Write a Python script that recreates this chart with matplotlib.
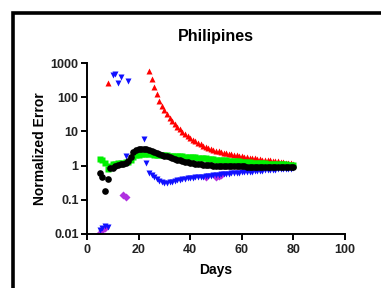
import matplotlib
matplotlib.use("Agg")
import matplotlib.pyplot as plt
from matplotlib.lines import Line2D

plt.rcParams['font.family'] = ['Liberation Sans', 'DejaVu Sans']

# ---- data ----
red_days = [8] + list(range(24, 81))
red_vals = [260, 590, 330, 200, 120, 80, 57, 42, 32, 25, 20, 16, 13.5, 11.5, 9.8, 8.4,
            7.3, 6.4, 5.7, 5.1, 4.6, 4.2, 3.8, 3.5, 3.3, 3.1, 2.9, 2.75, 2.6, 2.5, 2.4,
            2.3, 2.2, 2.12, 2.05, 1.98, 1.92, 1.86, 1.8, 1.75, 1.7, 1.66, 1.62, 1.58,
            1.54, 1.5, 1.47, 1.44, 1.41, 1.38, 1.35, 1.32, 1.29, 1.26, 1.23, 1.2, 1.17, 1.15]

blue_days = [5, 6, 7, 8, 10, 11, 12, 13, 15, 16, 22, 23] + list(range(24, 81))
blue_vals = [0.013, 0.015, 0.017, 0.016, 450, 470, 260, 390, 1.9, 300, 6.0, 1.2,
             0.6, 0.52, 0.45, 0.4, 0.36, 0.33, 0.32, 0.32, 0.33, 0.34, 0.35, 0.37,
             0.38, 0.4, 0.41, 0.42, 0.43, 0.44, 0.45, 0.46, 0.47, 0.48, 0.49, 0.5,
             0.51, 0.52, 0.53, 0.54, 0.55, 0.56, 0.57, 0.58, 0.59, 0.6, 0.61, 0.62,
             0.63, 0.64, 0.65, 0.66, 0.67, 0.68, 0.69, 0.7, 0.71, 0.72, 0.73, 0.74,
             0.75, 0.76, 0.77, 0.78, 0.79, 0.8, 0.81, 0.82, 0.83]

mag_days = [5, 6, 7, 14, 15, 46, 50, 51, 52]
mag_vals = [0.011, 0.013, 0.015, 0.138, 0.12, 0.45, 0.48, 0.5, 0.52]

green_days = list(range(5, 81))
green_vals = [1.6, 1.45, 1.2, 0.8, 0.95, 1.1, 1.15, 1.2, 1.2, 1.2, 1.25, 1.3, 1.5,
              1.8, 2.0, 2.1, 2.2, 2.2, 2.2, 2.2, 2.15, 2.1, 2.1, 2.05, 2.0, 2.0,
              1.98, 1.96, 1.94, 1.92, 1.9, 1.88, 1.86, 1.84, 1.82, 1.8, 1.77, 1.74,
              1.71, 1.68, 1.65, 1.62, 1.59, 1.56, 1.53, 1.5, 1.48, 1.46, 1.44, 1.42,
              1.4, 1.38, 1.36, 1.34, 1.32, 1.3, 1.28, 1.26, 1.24, 1.22, 1.2, 1.19,
              1.18, 1.17, 1.16, 1.15, 1.14, 1.13, 1.12, 1.11, 1.1, 1.09, 1.08, 1.07,
              1.06, 1.05]

black_days = list(range(5, 81))
black_vals = [0.6, 0.48, 0.18, 0.4, 0.85, 0.85, 0.95, 1.05, 1.1, 1.15, 1.2, 1.4,
              1.8, 2.5, 2.9, 3.0, 3.1, 3.1, 3.0, 2.9, 2.7, 2.5, 2.35, 2.2, 2.05,
              1.95, 1.85, 1.75, 1.65, 1.55, 1.48, 1.42, 1.36, 1.3, 1.25, 1.2, 1.17,
              1.14, 1.11, 1.09, 1.07, 1.05, 1.03, 1.02, 1.0, 0.99, 0.98, 0.98, 0.97,
              0.97, 0.96, 0.96, 0.96, 0.95, 0.95, 0.95, 0.95, 0.94, 0.94, 0.94, 0.94,
              0.94, 0.93, 0.93, 0.93, 0.93, 0.93, 0.93, 0.92, 0.92, 0.92, 0.92, 0.92,
              0.92, 0.92, 0.92]

xticks = [0, 20, 40, 60, 80, 100]
yticks = [0.01, 0.1, 1, 10, 100, 1000]
ytick_labels = ['0.01', '0.1', '1', '10', '100', '1000']

# ---- figure ----
fig = plt.figure(figsize=(3.81, 2.88), dpi=100)
ax = fig.add_axes([87/381, 1 - 234/288, (345 - 87)/381, (234 - 63)/288])

ms = 4.8
ax.plot(red_days, red_vals, linestyle='none', marker='^', ms=ms, color='#ff0000', mec='none')
ax.plot(mag_days, mag_vals, linestyle='none', marker='D', ms=ms*0.8, color='#b030e0', mec='none')
ax.plot(blue_days, blue_vals, linestyle='none', marker='v', ms=ms, color='#1010ff', mec='none')
ax.plot(green_days, green_vals, linestyle='none', marker='s', ms=ms*0.9, color='#00f000', mec='none')
ax.plot(black_days, black_vals, linestyle='none', marker='o', ms=ms, color='#000000', mec='none')

ax.set_yscale('log')
ax.set_ylim(0.01, 1000)
ax.set_xlim(0, 100)
ax.set_xticks(xticks)
ax.set_yticks(yticks)
ax.set_yticklabels(ytick_labels)
ax.minorticks_off()

for s in ['top', 'right']:
    ax.spines[s].set_visible(False)
for s in ['left', 'bottom']:
    ax.spines[s].set_linewidth(1.4)
ax.tick_params(axis='both', direction='out', length=4, width=1.4, labelsize=9, pad=2)
ax.tick_params(axis='x', pad=3)
for lab in ax.get_xticklabels() + ax.get_yticklabels():
    lab.set_fontweight('bold')
    lab.set_color('#222222')

ax.set_title('Philipines', fontsize=11.5, fontweight='bold', pad=16)
ax.set_xlabel('Days', fontsize=10, fontweight='bold', labelpad=5)
ax.set_ylabel('Normalized Error', fontsize=10, fontweight='bold', labelpad=3)

# outer frame (top and left border)
fx = 13 / 381
fy = 1 - 12.5 / 288
fig.add_artist(Line2D([fx, fx, 1.0], [0.0, fy, fy], transform=fig.transFigure,
                      color='black', linewidth=2.6, solid_joinstyle='miter'))

fig.savefig('out.png', dpi=100)
